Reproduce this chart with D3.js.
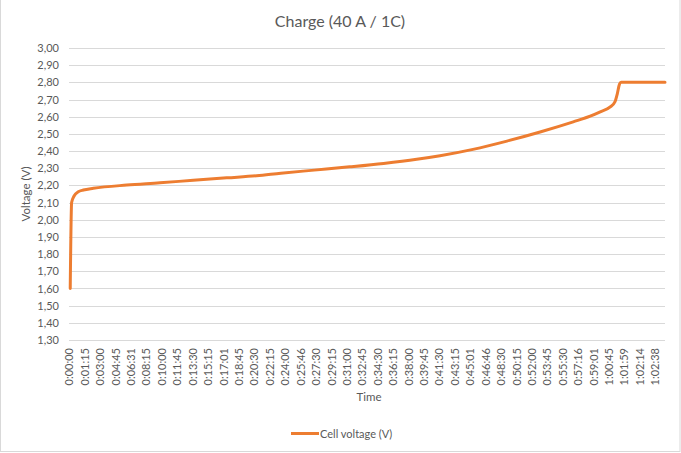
<!DOCTYPE html>
<html>
<head>
<meta charset="utf-8">
<script src="https://cdn.jsdelivr.net/npm/d3@7"></script>
<style>
  html, body { margin: 0; padding: 0; background: #fff; }
  svg { display: block; }
  text { font-family: Lato, "Open Sans", "Liberation Sans", sans-serif; fill: #595959; }
</style>
</head>
<body>
<svg id="chart" width="681" height="453"></svg>
<script>
// ---- Data ----
const timeLabels = ["0:00:00","0:01:15","0:03:00","0:04:45","0:06:31","0:08:15","0:10:00","0:11:45","0:13:30","0:15:15","0:17:01","0:18:45","0:20:30","0:22:15","0:24:00","0:25:46","0:27:30","0:29:15","0:31:00","0:32:45","0:34:30","0:36:15","0:38:00","0:39:45","0:41:30","0:43:15","0:45:01","0:46:46","0:48:30","0:50:15","0:52:00","0:53:45","0:55:30","0:57:16","0:59:01","1:00:45","1:01:59","1:02:14","1:02:38"];
// category position (in units of labelled categories) of each sample
const samplePos = [0.08, 0.17, 0.32, 0.6, 0.93, 1.58, 3.75, 5.9, 8.06, 10.23, 12.17, 13.74, 15.9, 18.2, 20.4, 22.55, 24.06, 26.2, 28.4, 30.55, 32.7, 33.8, 34.45, 35.1, 35.4, 35.56, 35.7, 35.8, 37.0, 38.0, 38.65];
const cellVoltage = [1.60, 2.10, 2.137, 2.163, 2.173, 2.183, 2.202, 2.215, 2.23, 2.244, 2.256, 2.271, 2.289, 2.308, 2.328, 2.352, 2.373, 2.410, 2.458, 2.511, 2.570, 2.603, 2.628, 2.657, 2.686, 2.735, 2.79, 2.80, 2.80, 2.80, 2.80];
const yTickValues = [1.3,1.4,1.5,1.6,1.7,1.8,1.9,2.0,2.1,2.2,2.3,2.4,2.5,2.6,2.7,2.8,2.9,3.0];
const seriesName = "Cell voltage (V)";
const chartTitle = "Charge (40 A / 1C)";

// ---- Layout ----
const W = 681, H = 453;
const plot = { left: 69, right: 665, top: 48, bottom: 340 };
const svg = d3.select("#chart");

// outer border
svg.append("rect").attr("x", 0.5).attr("y", -1).attr("width", W - 1.5).attr("height", H - 0.5)
  .attr("fill", "none").attr("stroke", "#D9D9D9").attr("stroke-width", 1);

const x = d3.scaleLinear().domain([0, 38.65]).range([plot.left, plot.right]);
const y = d3.scaleLinear().domain([1.3, 3.0]).range([plot.bottom, plot.top]);

// gridlines
svg.append("g").selectAll("line").data(yTickValues).join("line")
  .attr("x1", plot.left).attr("x2", plot.right)
  .attr("y1", d => Math.round(y(d)) + 0.5).attr("y2", d => Math.round(y(d)) + 0.5)
  .attr("stroke", "#D9D9D9").attr("stroke-width", 1);

// y axis
const yAxis = d3.axisLeft(y).tickValues(yTickValues)
  .tickFormat(d => d3.format(".2f")(d).replace(".", ",")).tickSize(0).tickPadding(0);
const gy = svg.append("g").attr("transform", `translate(${plot.left - 10},0)`).call(yAxis);
gy.select(".domain").remove();
gy.selectAll("text").attr("font-size", 11).style("fill", "#595959")
  .style("font-family", "Lato, 'Open Sans', sans-serif");

// x axis (category labels)
const xAxis = d3.axisBottom(x).tickValues(d3.range(timeLabels.length))
  .tickFormat((d, i) => timeLabels[i]).tickSize(0).tickPadding(0);
const gx = svg.append("g").attr("transform", `translate(0,${plot.bottom})`).call(xAxis);
gx.select(".domain").remove();
gx.selectAll("text")
  .attr("transform", "rotate(-90)")
  .attr("x", -8).attr("y", 0).attr("dy", "0.35em")
  .attr("text-anchor", "end")
  .attr("font-size", 11).style("fill", "#595959")
  .style("font-family", "Lato, 'Open Sans', sans-serif");

// line
const pts = samplePos.map((p, i) => [p, cellVoltage[i]]);
svg.append("path").datum(pts)
  .attr("fill", "none").attr("stroke", "#ED7D31").attr("stroke-width", 3)
  .attr("stroke-linejoin", "round").attr("stroke-linecap", "round")
  .attr("d", d3.line().x(d => x(d[0])).y(d => y(d[1])).curve(d3.curveMonotoneX));

// title
svg.append("text").attr("x", 340).attr("y", 27).attr("text-anchor", "middle")
  .attr("font-size", 16).text(chartTitle);

// axis titles
svg.append("text").attr("transform", `translate(30,${(plot.top + plot.bottom) / 2}) rotate(-90)`)
  .attr("text-anchor", "middle").attr("font-size", 11.5).text("Voltage (V)");
svg.append("text").attr("x", (plot.left + plot.right) / 2 + 2).attr("y", 401)
  .attr("text-anchor", "middle").attr("font-size", 11.5).text("Time");

// legend
const lg = svg.append("g");
lg.append("line").attr("x1", 291).attr("x2", 319).attr("y1", 433.5).attr("y2", 433.5)
  .attr("stroke", "#ED7D31").attr("stroke-width", 3);
lg.append("text").attr("x", 320).attr("y", 437.5).attr("font-size", 11).text(seriesName);
</script>
</body>
</html>
